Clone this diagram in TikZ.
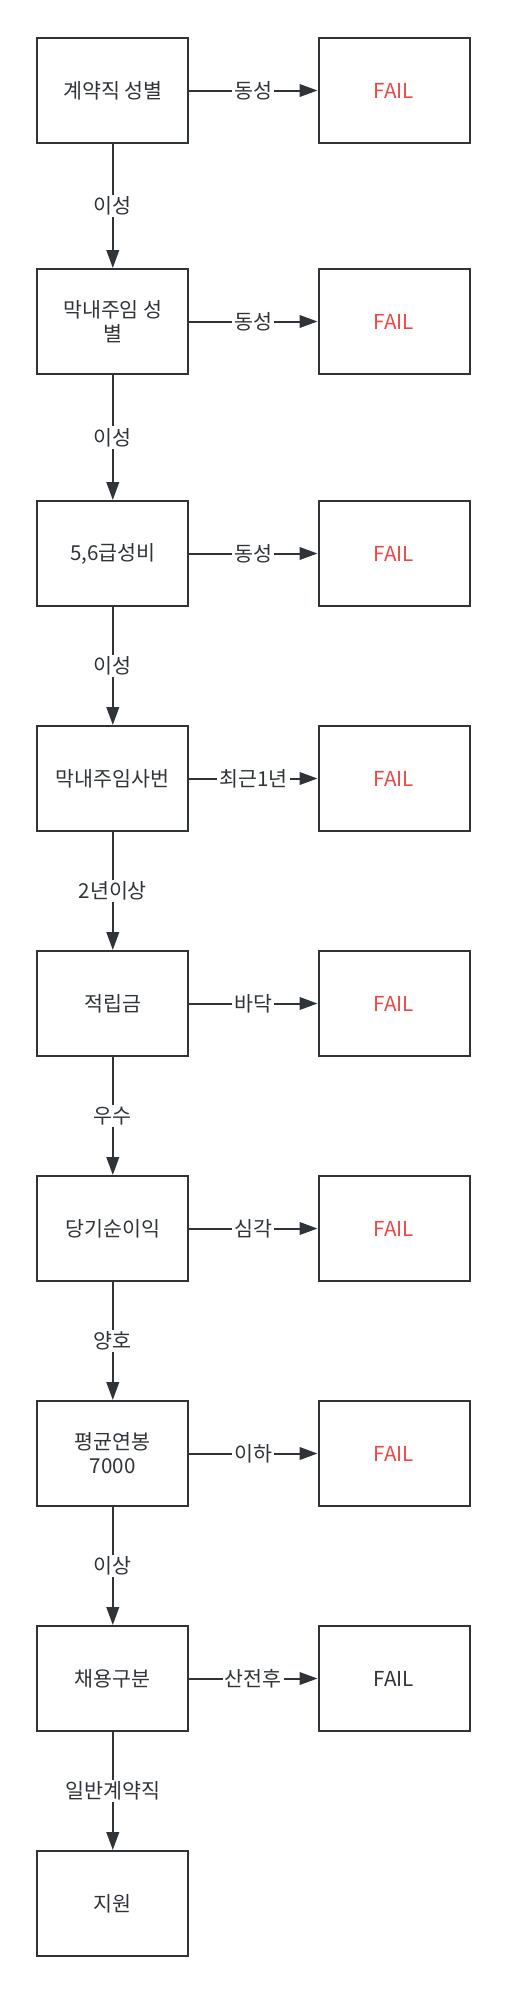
\documentclass[tikz,border=0pt]{standalone}
\usepackage{fontspec}
\setmainfont{Noto Sans CJK KR}
\usetikzlibrary{arrows.meta}
\definecolor{linegray}{RGB}{48,52,56}
\definecolor{failred}{RGB}{232,72,72}
\newcommand{\flowfont}{\fontsize{10.3pt}{12pt}\selectfont}
\tikzset{
  box/.style={draw=linegray, line width=1pt, minimum width=75.5pt, minimum height=52.5pt, align=center, text=linegray, font=\flowfont},
  failbox/.style={box, text=failred},
  flow/.style={draw=linegray, line width=1pt, -{Triangle[length=9pt,width=6.3pt]}},
  cond/.style={fill=white, inner sep=1pt, text=linegray, font=\flowfont}
}

\begin{document}
\begin{tikzpicture}[x=0.5pt,y=-0.5pt]
        \useasboundingbox (0,0) rectangle (506,1993);
        % row1
        \node[box] (s1) at (112.8,90.5) {계약직 성별};
        \node[failbox] (f1) at (394,90.5) {FAIL};
        % row2
        \node[box] (s2) at (112.8,321.5) {막내주임 성\\별};
        \node[failbox] (f2) at (394,321.5) {FAIL};
        % row3
        \node[box] (s3) at (112.8,553.5) {5,6급성비};
        \node[failbox] (f3) at (394,553.5) {FAIL};
        % row4
        \node[box] (s4) at (112.8,778.5) {막내주임사번};
        \node[failbox] (f4) at (394,778.5) {FAIL};
        % row5
        \node[box] (s5) at (112.8,1003.5) {적립금};
        \node[failbox] (f5) at (394,1003.5) {FAIL};
        % row6
        \node[box] (s6) at (112.8,1228.5) {당기순이익};
        \node[failbox] (f6) at (394,1228.5) {FAIL};
        % row7
        \node[box] (s7) at (112.8,1453.5) {평균연봉\\7000};
        \node[failbox] (f7) at (394,1453.5) {FAIL};
        % row8
        \node[box] (s8) at (112.8,1678.5) {채용구분};
        \node[box] (f8) at (394,1678.5) {FAIL};
        % row9
        \node[box] (s9) at (112.8,1903.5) {지원};

        % fail branches
        \draw[flow] (s1) -- node[cond] {동성} (f1);
        \draw[flow] (s2) -- node[cond] {동성} (f2);
        \draw[flow] (s3) -- node[cond] {동성} (f3);
        \draw[flow] (s4) -- node[cond] {최근1년} (f4);
        \draw[flow] (s5) -- node[cond] {바닥} (f5);
        \draw[flow] (s6) -- node[cond] {심각} (f6);
        \draw[flow] (s7) -- node[cond] {이하} (f7);
        \draw[flow] (s8) -- node[cond] {산전후} (f8);
        % pass branches
        \draw[flow] (s1) -- node[cond] {이성} (s2);
        \draw[flow] (s2) -- node[cond] {이성} (s3);
        \draw[flow] (s3) -- node[cond] {이성} (s4);
        \draw[flow] (s4) -- node[cond] {2년이상} (s5);
        \draw[flow] (s5) -- node[cond] {우수} (s6);
        \draw[flow] (s6) -- node[cond] {양호} (s7);
        \draw[flow] (s7) -- node[cond] {이상} (s8);
        \draw[flow] (s8) -- node[cond] {일반계약직} (s9);
    \end{tikzpicture}
\end{document}
